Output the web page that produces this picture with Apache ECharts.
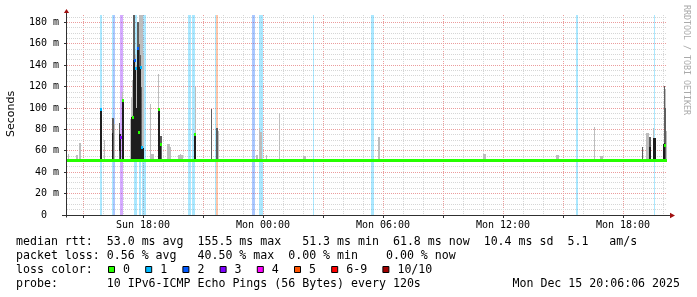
<!DOCTYPE html>
<html>
<head>
<meta charset="utf-8">
<script src="https://cdn.jsdelivr.net/npm/echarts@6/dist/echarts.min.js"></script>
<style>
  html, body { margin: 0; padding: 0; background: #fff; }
  #chart { width: 697px; height: 297px; }
</style>
</head>
<body>
<div id="chart"></div>
<script>
// x is hours counted from Sun 00:00, one sample = 3 minutes
var startHour = 14.2, endHour = 44.2, stepHours = 0.05;
var yMax = 187;
var baseMedian = 51.0;

var xLabelHours = [18, 24, 30, 36, 42];
var yLabelValues = [0, 20, 40, 60, 80, 100, 120, 140, 160, 180];

var lossLabels = ['0', '1', '2', '3', '4', '5', '6-9', '10/10'];
var lossColors = ['#26ff00', '#00b8ff', '#0059ff', '#7e00ff', '#ff00ff', '#ff5500', '#ff0000', '#a10000'];

// [from hour, to hour, loss class]
var lossBands = [
  [15.85, 15.95, 1], [16.45, 16.5, 1], [16.5, 16.6, 2], [16.85, 17.0, 3],
  [17.55, 17.7, 1], [17.8, 17.9, 1], [17.95, 18.15, 1],
  [20.25, 20.4, 1], [20.45, 20.6, 1], [21.6, 21.65, 1], [21.65, 21.75, 5],
  [23.45, 23.6, 2], [23.8, 24.0, 1], [26.5, 26.55, 1], [29.4, 29.55, 1],
  [39.65, 39.75, 1], [43.55, 43.6, 1]
];

// median rtt, flat for most of the period
var medianLine = [[14.2, 51.0], [44.2, 51.0]];

// smoke, [hour, low ms, high ms]
var smokeLight = [
  [14.25, 51, 57], [14.65, 51, 56], [14.7, 51, 56], [14.8, 51, 67], [14.85, 51, 67],
  [16.05, 51, 70], [16.55, 51, 85], [16.95, 51, 115],
  [17.35, 51, 90], [17.4, 51, 110], [17.45, 51, 126], [17.6, 51, 150], [17.65, 51, 140],
  [17.8, 51, 187], [17.85, 51, 187], [17.9, 51, 187], [17.95, 51, 187], [18.0, 51, 150],
  [18.35, 51, 103.5], [18.4, 51, 57], [18.45, 51, 57], [18.5, 51, 57], [18.75, 51, 132],
  [19.2, 51, 66], [19.25, 51, 66], [19.3, 51, 66], [19.35, 51, 64],
  [19.75, 51, 56], [19.8, 51, 56], [19.85, 51, 57], [19.9, 51, 56], [19.95, 51, 56],
  [20.6, 51, 120], [21.75, 51, 78.6],
  [23.65, 51, 56], [23.7, 51, 56], [23.8, 51, 81], [23.85, 51, 78], [23.9, 51, 78],
  [24.15, 51, 56], [24.8, 51, 95], [26.0, 51, 55], [26.05, 51, 55], [26.1, 51, 55],
  [29.75, 51, 73], [29.8, 51, 73], [35.0, 51, 57], [35.05, 51, 57], [35.1, 51, 57],
  [38.65, 51, 56], [38.7, 51, 56], [38.75, 51, 56], [40.55, 51, 82.4],
  [40.85, 51, 55], [40.9, 51, 55], [40.95, 51, 55],
  [43.15, 51, 77], [43.2, 51, 77], [43.25, 51, 77], [43.5, 51, 81],
  [44.1, 51, 118], [44.15, 51, 79]
];
var smokeMid = [
  [16.45, 51, 91], [16.5, 51, 91], [16.8, 51, 86],
  [17.5, 51, 187], [17.55, 51, 187], [17.7, 51, 180], [17.75, 51, 180],
  [17.8, 51, 160], [17.85, 51, 150], [17.9, 51, 120],
  [18.85, 51, 74], [18.9, 51, 74], [21.4, 51, 99.5], [21.65, 51, 81.5], [21.7, 51, 81.5],
  [42.95, 51, 64], [43.3, 51, 73], [43.35, 51, 73], [44.05, 51, 121], [44.1, 51, 100]
];
var smokeDark = [
  [15.85, 51, 99], [15.9, 51, 99], [16.45, 51, 77], [16.8, 60, 76], [16.85, 51, 76],
  [16.95, 51, 107], [17.0, 51, 107], [17.4, 51, 92], [17.45, 51, 92],
  [17.5, 51, 145], [17.55, 51, 145], [17.6, 51, 137], [17.65, 51, 100],
  [17.7, 51, 155.5], [17.75, 51, 155.5], [17.8, 51, 138], [17.85, 51, 138],
  [17.9, 51, 63], [17.95, 51, 63], [18.0, 51, 63],
  [18.75, 51, 99], [18.8, 51, 99], [18.85, 51, 66], [20.55, 51, 76], [20.6, 51, 76],
  [43.3, 51, 64], [43.35, 51, 64], [43.5, 51, 72], [43.55, 51, 72], [43.6, 51, 72],
  [44.0, 51, 66], [44.05, 51, 67]
];

// medians away from the base line, [hour, ms, loss class]
var medianDots = [
  [15.85, 99, 1], [16.85, 72, 3], [16.95, 107, 0], [17.45, 91.5, 0],
  [17.55, 144.6, 2], [17.6, 136.6, 1], [17.7, 155.5, 2], [17.75, 77, 0],
  [17.85, 137.7, 1], [17.9, 63, 1], [18.75, 99, 0], [18.85, 66, 0],
  [20.55, 75.5, 0], [44.05, 65, 0]
];

var legendRtt = 'median rtt:  53.0 ms avg  155.5 ms max   51.3 ms min  61.8 ms now  10.4 ms sd  5.1   am/s';
var legendLoss = 'packet loss: 0.56 % avg   40.50 % max  0.00 % min    0.00 % now';
var legendProbe = 'probe:       10 IPv6-ICMP Echo Pings (56 Bytes) every 120s';
var stampText = 'Mon Dec 15 20:06:06 2025';

var mono = '"DejaVu Sans Mono"';
var minorColor = '#d6d6d6';
var majorColor = '#eb9c9c';
var axisColor = '#303030';

function rowY(y) { return Math.floor(y + 1e-6) + 0.5; }
function colX(x) { return Math.round(x) + 0.5; }

function renderGrid(params, api) {
  var cs = params.coordSys;
  var top = cs.y, bottom = cs.y + cs.height, left = cs.x, right = cs.x + cs.width;
  var kids = [];
  var h, v, x, y;
  for (h = Math.ceil(startHour); h <= endHour; h++) {
    x = colX(api.coord([h, 0])[0]);
    var major = h % 3 === 0;
    kids.push({ type: 'line', shape: { x1: x, y1: top, x2: x, y2: bottom },
      style: { stroke: major ? majorColor : minorColor, lineWidth: 1, lineDash: [1, 1] } });
    if (major) {
      kids.push({ type: 'line', shape: { x1: x, y1: bottom, x2: x, y2: bottom + 3 },
        style: { stroke: axisColor, lineWidth: 1 } });
    }
  }
  for (v = 5; v < yMax; v += 5) {
    y = rowY(api.coord([startHour, v])[1]);
    var maj = v % 20 === 0;
    kids.push({ type: 'line', shape: { x1: left, y1: y, x2: right, y2: y },
      style: { stroke: maj ? majorColor : minorColor, lineWidth: 1, lineDash: [1, 1] } });
    if (maj) {
      kids.push({ type: 'line', shape: { x1: left - 3, y1: y, x2: left, y2: y },
        style: { stroke: axisColor, lineWidth: 1 } });
    }
  }
  return { type: 'group', children: kids };
}

function renderAxes(params, api) {
  var cs = params.coordSys;
  var y0 = rowY(api.coord([startHour, 0])[1]);
  var xl = cs.x - 0.5;
  var xr = cs.x + cs.width;
  return { type: 'group', children: [
    { type: 'line', shape: { x1: cs.x - 5, y1: y0, x2: xr + 3, y2: y0 }, style: { stroke: axisColor, lineWidth: 1 } },
    { type: 'line', shape: { x1: xl, y1: cs.y - 2, x2: xl, y2: y0 + 2 }, style: { stroke: axisColor, lineWidth: 1 } },
    { type: 'polygon', shape: { points: [[xl, cs.y - 6], [xl - 2.6, cs.y - 2], [xl + 2.6, cs.y - 2]] }, style: { fill: '#a01010' } },
    { type: 'polygon', shape: { points: [[xr + 8, y0], [xr + 3, y0 - 2.7], [xr + 3, y0 + 2.7]] }, style: { fill: '#a01010' } }
  ] };
}

function sampleRect(api, h, lo, hi) {
  var p0 = api.coord([h, lo]);
  var p1 = api.coord([h + stepHours, hi]);
  var x0 = Math.round(p0[0]), x1 = Math.round(p1[0]);
  var y0 = Math.round(p0[1]), y1 = Math.round(p1[1]);
  return { x: x0, y: y1, width: Math.max(1, x1 - x0), height: Math.max(1, y0 - y1) };
}

function smokeSeries(name, data, color) {
  return {
    type: 'custom', name: name, data: data, silent: true,
    renderItem: function (params, api) {
      return { type: 'rect', shape: sampleRect(api, api.value(0), api.value(1), api.value(2)),
        style: { fill: color } };
    }
  };
}

var graphics = [];
function addText(str, x, y, font, fill, align, rot) {
  graphics.push({ type: 'text', x: x, y: y, rotation: rot || 0, silent: true,
    style: { text: str, font: font, fill: fill, align: align || 'left', verticalAlign: 'middle' } });
}

var legendFont = '11.6px ' + mono;
addText(legendRtt, 16, 241.5, legendFont, '#000');
addText(legendLoss, 16, 255.5, legendFont, '#000');
addText('loss color:', 16, 269.5, legendFont, '#000');
addText(legendProbe, 16, 283.5, legendFont, '#000');
addText(stampText, 680, 283.5, legendFont, '#000', 'right');

var bx = 108;
lossLabels.forEach(function (lab, i) {
  graphics.push({ type: 'rect', silent: true,
    shape: { x: bx + 0.5, y: 266.5, width: 6, height: 6 },
    style: { fill: lossColors[i], stroke: '#000', lineWidth: 1 } });
  addText(lab, bx + 15, 269.5, legendFont, '#000');
  bx += 30.2 + 7 * lab.length;
});

addText('Seconds', 11, 114, '11px "DejaVu Sans"', '#000', 'center', Math.PI / 2);
addText('RRDTOOL / TOBI OETIKER', 686.5, 60, '8.3px ' + mono, '#aaaaaa', 'center', -Math.PI / 2);

var chart = echarts.init(document.getElementById('chart'), null, { renderer: 'canvas' });
chart.setOption({
  animation: false,
  backgroundColor: '#fff',
  grid: { left: 67, top: 15, width: 600, height: 200, containLabel: false },
  xAxis: {
    type: 'value', min: startHour, max: endHour,
    axisLine: { show: false }, axisTick: { show: false }, splitLine: { show: false },
    axisLabel: {
      customValues: xLabelHours, margin: 5, color: '#000', fontFamily: 'DejaVu Sans Mono', fontSize: 10,
      formatter: function (h) {
        var hh = h % 24;
        return (h < 24 ? 'Sun ' : 'Mon ') + (hh < 10 ? '0' : '') + hh + ':00';
      }
    }
  },
  yAxis: {
    type: 'value', min: 0, max: yMax,
    axisLine: { show: false }, axisTick: { show: false }, splitLine: { show: false },
    axisLabel: {
      customValues: yLabelValues, margin: 8, color: '#000', fontFamily: 'DejaVu Sans Mono', fontSize: 10,
      formatter: function (v) { return v === 0 ? '0\u00a0\u00a0' : v + ' m'; }
    }
  },
  graphic: graphics,
  series: [
    { type: 'custom', name: 'grid', data: [[startHour, 0]], silent: true, renderItem: renderGrid },
    {
      type: 'custom', name: 'loss', data: lossBands, silent: true,
      renderItem: function (params, api) {
        var a = api.coord([api.value(0), 0]);
        var b = api.coord([api.value(1), yMax]);
        var x0 = Math.round(a[0]), x1 = Math.round(b[0]);
        return { type: 'rect', shape: { x: x0, y: Math.round(b[1]), width: x1 - x0, height: Math.round(a[1]) - Math.round(b[1]) },
          style: { fill: lossColors[api.value(2)], opacity: 0.33 } };
      }
    },
    smokeSeries('smoke light', smokeLight, '#bdbdbd'),
    smokeSeries('smoke mid', smokeMid, '#5e5e5e'),
    smokeSeries('smoke dark', smokeDark, '#1e1e1e'),
    {
      type: 'line', name: 'median', data: medianLine, showSymbol: false, silent: true,
      lineStyle: { color: lossColors[0], width: 3 }
    },
    {
      type: 'custom', name: 'loss on median', data: lossBands, silent: true,
      renderItem: function (params, api) {
        var a = api.coord([api.value(0), baseMedian]);
        var b = api.coord([api.value(1), baseMedian]);
        var x0 = Math.round(a[0]), x1 = Math.round(b[0]);
        return { type: 'rect', shape: { x: x0, y: Math.floor(a[1]) - 1, width: x1 - x0, height: 3 },
          style: { fill: lossColors[api.value(2)] } };
      }
    },
    {
      type: 'custom', name: 'median dots', data: medianDots, silent: true,
      renderItem: function (params, api) {
        var p = api.coord([api.value(0), api.value(1)]);
        return { type: 'rect', shape: { x: Math.round(p[0]), y: Math.floor(p[1]) - 1, width: 2, height: 3 },
          style: { fill: lossColors[api.value(2)] } };
      }
    },
    { type: 'custom', name: 'axes', data: [[startHour, 0]], silent: true, renderItem: renderAxes }
  ]
});
</script>
</body>
</html>
